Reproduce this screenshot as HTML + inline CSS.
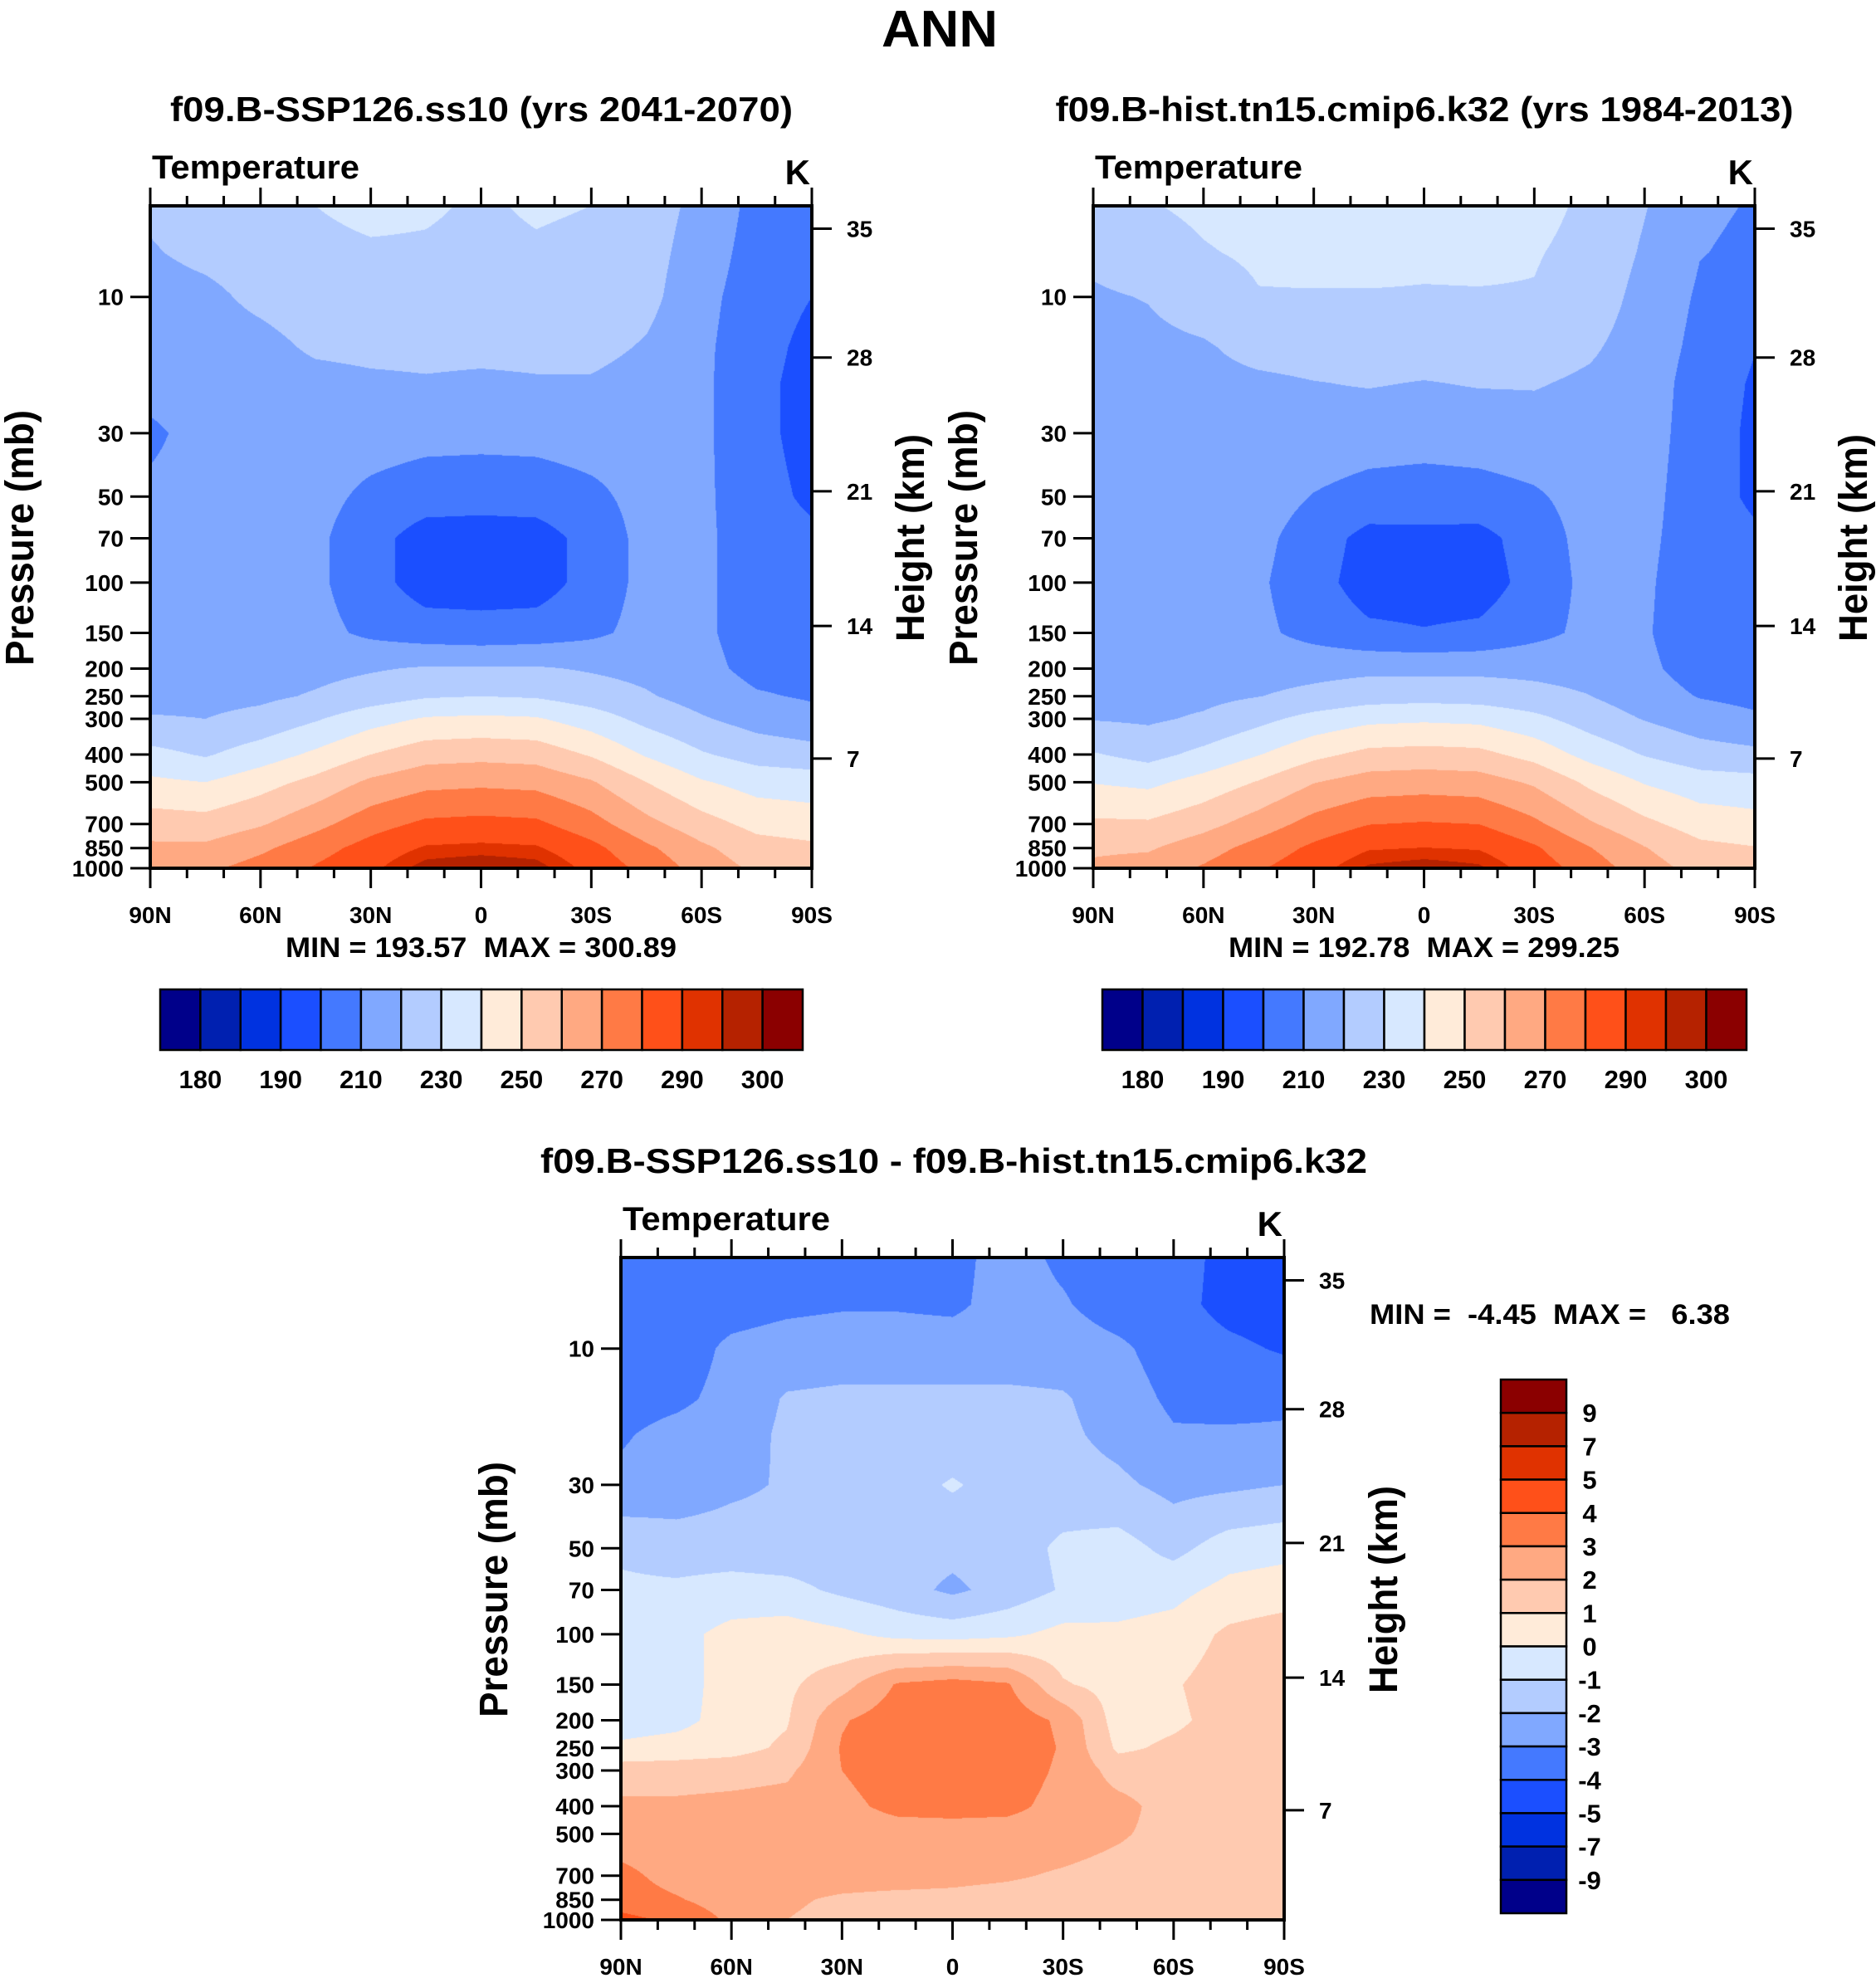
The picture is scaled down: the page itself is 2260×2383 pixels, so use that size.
<!DOCTYPE html>
<html><head><meta charset="utf-8">
<style>
html,body{margin:0;padding:0;background:#fff;}
#root{position:relative;width:2260px;height:2383px;overflow:hidden;background:#fff;font-family:"Liberation Sans",Arial,sans-serif;}
canvas{position:absolute;display:block;}
svg{position:absolute;left:0;top:0;}
text{font-family:"Liberation Sans",Arial,sans-serif;font-weight:bold;fill:#000;}
</style></head>
<body>
<div id="root">
<canvas id="c0"></canvas>
<canvas id="c1"></canvas>
<canvas id="c2"></canvas>
<svg id="ov" width="2260" height="2383" xmlns="http://www.w3.org/2000/svg">
<text x="1132" y="56" font-size="62" text-anchor="middle" textLength="140" lengthAdjust="spacingAndGlyphs">ANN</text>
<text x="580" y="146" font-size="42" text-anchor="middle" textLength="750" lengthAdjust="spacingAndGlyphs">f09.B-SSP126.ss10 (yrs 2041-2070)</text>
<text x="1716" y="146" font-size="42" text-anchor="middle" textLength="889" lengthAdjust="spacingAndGlyphs">f09.B-hist.tn15.cmip6.k32 (yrs 1984-2013)</text>
<text x="1149" y="1413" font-size="42" text-anchor="middle" textLength="996" lengthAdjust="spacingAndGlyphs">f09.B-SSP126.ss10 - f09.B-hist.tn15.cmip6.k32</text>
<text x="344" y="1153" font-size="34" textLength="471" lengthAdjust="spacingAndGlyphs" xml:space="preserve" style="white-space:pre">MIN = 193.57  MAX = 300.89</text>
<text x="1480" y="1153" font-size="34" textLength="471" lengthAdjust="spacingAndGlyphs" xml:space="preserve" style="white-space:pre">MIN = 192.78  MAX = 299.25</text>
<text x="1650" y="1595" font-size="34" textLength="434" lengthAdjust="spacingAndGlyphs" xml:space="preserve" style="white-space:pre">MIN =  -4.45  MAX =   6.38</text>
</svg>
</div>
<script>
const lats=[90,75,60,45,30,15,0,-15,-30,-45,-60,-75,-90];
const levs=[4.8,7,10,15,20,30,50,70,100,150,200,250,300,400,500,700,850,1000];
const tempSSP=[
[222,226,228,230,232,231,229,231,230,225,217,207,205],
[219,223,226,228,229,229,228,229,228,224,215,206,204],
[215,217,223,227,227,227,227,227,227,223,213,205,200],
[213,214,216,222,223,223,223,223,223,219,212,204,197],
[212,213,214,216,218,219,218,219,219,216,212,203,196],
[209,212,213,214,214,213,213,213,214,213,212,203,196],
[211,212,213,213,208,205,204,205,208,213,212,204,198],
[212,213,213,212,204,195,195,195,204,213,212,205,202],
[213,214,214,212,204,195,195,195,204,213,212,205,203],
[214,215,215,213,208,205,204,205,208,213,212,205,204],
[214,215,216,217,219,221,221,221,219,217,213,207,206],
[216,217,218,221,225,229,230,229,225,221,216,211,209],
[221,220,223,229,236,241,242,241,235,227,221,216,213],
[233,229,235,242,250,256,257,256,249,239,231,226,224],
[242,240,246,253,262,267,268,267,261,250,241,236,235],
[255,254,259,267,276,282,283,282,274,263,254,247,245],
[262,262,268,276,284,291,292,291,283,272,262,254,252],
[266,268,274,281,288,298,300.5,298,287,277,266,258,255]];
const tempHist=[
[225.5,229.5,231.5,233.5,235.5,234.5,232.5,233.5,232.5,228.5,220.6,211.3,209.5],
[222.5,226.5,229.4,231.2,232.1,232.1,231.2,231.6,230.6,227.5,218.7,210.3,208.5],
[218.6,220.5,225.8,229.6,229.5,229.5,229.5,229.5,229.5,225.8,216.5,208.8,204.1],
[216.4,217.2,218.7,223.9,224.8,224.8,224.8,224.8,224.9,221.5,215.2,207.5,200.3],
[215.1,215.7,216.5,217.8,219.7,220.7,219.6,220.7,220.8,218.3,214.9,205.8,198.8],
[211.8,214.6,215.2,215.9,215.6,214.4,213.9,214.4,215.6,214.8,214.3,205.2,198],
[212.2,213.5,214.5,214.6,209.6,206.6,205.7,206.5,208.8,213.6,213.3,204.5,198.3],
[212.8,213.8,213.6,212.7,205.2,196.6,197.2,196.6,204.9,213.5,212.3,204.7,201.5],
[213.7,214.3,213.7,211.5,203.8,195.3,195.4,195.2,203.7,212.8,211.6,203.8,201.5],
[214.6,215.5,214.5,212.2,206.7,202,200.6,202,207.1,212.4,211.1,203.5,202.5],
[214.5,215.3,215.6,216.1,217,217.8,217.5,217.7,217.5,216.5,212.2,205.6,204.6],
[215.8,216.6,217.4,219.8,222.5,225.5,226.4,225.6,223,220.2,214.8,209.5,207.5],
[219.5,218.5,221.4,227.2,233.4,237.6,238.5,237.6,232.7,225.4,219.5,214.5,211.5],
[230.8,226.8,232.7,239.6,247.4,252.8,253.7,252.8,246.5,236.7,229.4,224.5,222.5],
[239.6,237.7,243.7,250.7,259.6,264.5,265.5,264.5,258.6,247.9,239.3,234.5,233.5],
[251.7,251.4,256.7,264.7,273.7,279.7,280.8,279.9,272.1,261.3,252.4,245.5,243.5],
[258.5,258.9,265.5,273.9,282.1,289.2,290.2,289.3,281.4,270.5,260.5,252.5,250.5],
[261.7,264.2,271.2,279,286.2,296.3,298.9,296.4,285.4,275.5,264.4,256.5,253.5]];
const tempDiff=[
[-3.5,-3.5,-3.5,-3.5,-3.5,-3.5,-3.3,-2.6,-3.2,-3.5,-3.6,-4.3,-4.5],
[-3.5,-3.5,-3.4,-3.2,-3.1,-3.1,-3.2,-2.6,-2.9,-3.5,-3.7,-4.3,-4.5],
[-3.6,-3.5,-2.8,-2.6,-2.5,-2.5,-2.5,-2.5,-2.5,-2.8,-3.5,-3.8,-4.1],
[-3.4,-3.2,-2.7,-1.9,-1.8,-1.8,-1.8,-1.8,-1.9,-2.5,-3.2,-3.5,-3.3],
[-3.1,-2.7,-2.5,-1.8,-1.7,-1.7,-1.6,-1.7,-1.8,-2.3,-2.9,-2.8,-2.8],
[-2.8,-2.6,-2.2,-1.9,-1.6,-1.4,-0.9,-1.4,-1.6,-1.8,-2.3,-2.2,-2.0],
[-1.2,-1.5,-1.5,-1.6,-1.6,-1.6,-1.7,-1.5,-0.8,-0.6,-1.3,-0.5,-0.3],
[-0.8,-0.8,-0.6,-0.7,-1.2,-1.6,-2.2,-1.6,-0.9,-0.5,-0.3,0.3,0.5],
[-0.7,-0.3,0.3,0.5,0.2,-0.3,-0.4,-0.2,0.3,0.2,0.4,1.2,1.5],
[-0.6,-0.5,0.5,0.8,1.6,3.1,3.4,3.1,1.1,0.6,0.9,1.5,1.5],
[-0.5,-0.3,0.4,0.9,2.9,3.6,3.7,3.6,2.8,0.5,0.8,1.4,1.4],
[0.2,0.4,0.6,1.2,3.1,3.7,3.8,3.7,2.9,0.8,1.2,1.5,1.5],
[1.5,1.5,1.6,1.8,3.0,3.6,3.7,3.6,2.8,1.6,1.5,1.5,1.5],
[2.2,2.2,2.3,2.4,2.7,3.3,3.4,3.3,2.6,2.3,1.6,1.5,1.5],
[2.4,2.3,2.3,2.3,2.4,2.5,2.5,2.5,2.4,2.1,1.7,1.5,1.5],
[3.3,2.6,2.3,2.3,2.3,2.3,2.2,2.1,1.9,1.7,1.6,1.5,1.5],
[3.5,3.1,2.5,2.1,1.9,1.8,1.8,1.7,1.6,1.5,1.5,1.5,1.5],
[4.3,3.8,2.8,2.0,1.8,1.7,1.6,1.6,1.6,1.5,1.6,1.5,1.5]];
const absLevels=[180,185,190,200,210,220,230,240,250,260,270,280,290,295,300];
const absLabels=["180","190","210","230","250","270","290","300"];
const diffLevels=[-9,-7,-5,-4,-3,-2,-1,0,1,2,3,4,5,7,9];
const pressTicks=[10,30,50,70,100,150,200,250,300,400,500,700,850,1000];
const heightLabels=["35","28","21","14","7"];
const heightTickP=[5.77,16.3,47.9,141.9,413];
const latTicks=[90,60,30,0,-30,-60,-90];
const latLabels=["90N","60N","30N","0","30S","60S","90S"];
const colors=["#00008a","#0020b0","#0032e0","#1b4fff","#4479ff","#80a8ff","#b3ccff","#d7e8ff","#ffebd9","#ffcab0","#ffa982","#ff7a45","#ff5019","#e03200","#b52200","#8b0000"];

const NS="http://www.w3.org/2000/svg";
const ov=document.getElementById('ov');
const logTop=Math.log10(4.8);
const panels=[
 {id:'c0',L:181,R:978,T:248,B:1046,grid:tempSSP,levels:absLevels,pn:'panel1',pa:{x:40,y:648},ha:{x:1113,y:648}},
 {id:'c1',L:1317,R:2114,T:248,B:1046,grid:tempHist,levels:absLevels,pn:'panel2',pa:{x:1177,y:648},ha:{x:2249,y:648}},
 {id:'c2',L:748,R:1547,T:1515,B:2313,grid:tempDiff,levels:diffLevels,pn:'diff',pa:{x:611,y:1915},ha:{x:1683,y:1915}}
];
const logLevs=levs.map(p=>Math.log10(p));
function hex(c){return [parseInt(c.substr(1,2),16),parseInt(c.substr(3,2),16),parseInt(c.substr(5,2),16)];}
const rgb=colors.map(hex);

function addText(x,y,s,size,anchor,name){
  const t=document.createElementNS(NS,'text');
  t.setAttribute('x',x);t.setAttribute('y',y);t.setAttribute('font-size',size);
  t.setAttribute('text-anchor',anchor);t.textContent=s;
  
  
  ov.appendChild(t);return t;
}
function addLine(x1,y1,x2,y2,w,name){
  const l=document.createElementNS(NS,'line');
  l.setAttribute('x1',x1);l.setAttribute('y1',y1);l.setAttribute('x2',x2);l.setAttribute('y2',y2);
  l.setAttribute('stroke','#000');l.setAttribute('stroke-width',w);
  
  
  ov.appendChild(l);return l;
}
function addRect(x,y,w,h,fill,name){
  const r=document.createElementNS(NS,'rect');
  r.setAttribute('x',x);r.setAttribute('y',y);r.setAttribute('width',w);r.setAttribute('height',h);
  r.setAttribute('fill',fill);r.setAttribute('stroke','#000');r.setAttribute('stroke-width',2.5);
  
  
  ov.appendChild(r);return r;
}

panels.forEach(P=>{
  const w=P.R-P.L,h=P.B-P.T;
  const xOf=lat=>P.L+(90-lat)/180*w;
  const yOf=p=>P.T+(Math.log10(p)-logTop)/(3-logTop)*h;
  const cv=document.getElementById(P.id);
  cv.width=w;cv.height=h;cv.style.left=P.L+'px';cv.style.top=P.T+'px';
  const ctx=cv.getContext('2d');
  const img=ctx.createImageData(w,h);
  const g=P.grid,lv=P.levels;
  for(let py=0;py<h;py++){
    const lp=logTop+(py+0.5)/h*(3-logTop);
    let j=0;while(j<logLevs.length-2&&logLevs[j+1]<lp)j++;
    let fy=(lp-logLevs[j])/(logLevs[j+1]-logLevs[j]);fy=Math.max(0,Math.min(1,fy));
    for(let px=0;px<w;px++){
      const lat=90-(px+0.5)/w*180;
      let fi=(90-lat)/15;let i=Math.min(lats.length-2,Math.floor(fi));let fx=fi-i;
      const v=(g[j][i]*(1-fx)+g[j][i+1]*fx)*(1-fy)+(g[j+1][i]*(1-fx)+g[j+1][i+1]*fx)*fy;
      let k=0;while(k<lv.length&&v>=lv[k])k++;
      const c=rgb[k];const o=(py*w+px)*4;
      img.data[o]=c[0];img.data[o+1]=c[1];img.data[o+2]=c[2];img.data[o+3]=255;
    }
  }
  ctx.putImageData(img,0,0);
  const fr=document.createElementNS(NS,'rect');
  fr.setAttribute('x',P.L);fr.setAttribute('y',P.T);fr.setAttribute('width',w);fr.setAttribute('height',h);
  fr.setAttribute('fill','none');fr.setAttribute('stroke','#000');fr.setAttribute('stroke-width',4);
  
  
  ov.appendChild(fr);
  for(let lat=90;lat>=-90;lat-=10){
    const major=lat%30===0;const x=xOf(lat);
    addLine(x,P.T,x,P.T-(major?22:12),3,P.pn+'-top-tick');
    addLine(x,P.B,x,P.B+(major?24:12),3,P.pn+'-bottom-tick');
  }
  latTicks.forEach((lat,k)=>{addText(xOf(lat),P.B+66,latLabels[k],28,'middle',P.pn+'-x-tick-label');});
  pressTicks.forEach(p=>{const y=yOf(p);addLine(P.L-24,y,P.L,y,3,P.pn+'-y-tick');addText(P.L-32,y+10,String(p),28,'end',P.pn+'-y-tick-label');});
  heightTickP.forEach((p,k)=>{const y=yOf(p);addLine(P.R,y,P.R+24,y,3,P.pn+'-height-tick');addText(P.R+42,y+10,heightLabels[k],28,'start',P.pn+'-height-tick-label');});
  const tl=addText(P.L+2,P.T-33,'Temperature',40,'start',P.pn+'-variable-label');
  tl.setAttribute('textLength','250');tl.setAttribute('lengthAdjust','spacingAndGlyphs');
  addText(P.R-2,P.T-26,'K',42,'end',P.pn+'-units-label');
  const pt=addText(0,0,'Pressure (mb)',48,'middle',P.pn+'-y-axis-title');
  pt.setAttribute('transform','translate('+P.pa.x+','+P.pa.y+') rotate(-90)');
  pt.setAttribute('textLength','308');pt.setAttribute('lengthAdjust','spacingAndGlyphs');
  const ht=addText(0,0,'Height (km)',48,'middle',P.pn+'-height-axis-title');
  ht.setAttribute('transform','translate('+P.ha.x+','+P.ha.y+') rotate(-90)');
  ht.setAttribute('textLength','250');ht.setAttribute('lengthAdjust','spacingAndGlyphs');
});

[[193,967,'panel1'],[1328,2104,'panel2']].forEach(([x0,x1,pn])=>{
  const bw=(x1-x0)/colors.length;
  colors.forEach((c,k)=>{addRect(x0+k*bw,1192,bw,73,c,pn+'-colorbar-box');});
  absLabels.forEach((s,k)=>{addText(x0+(2*k+1)*bw,1311,s,31,'middle',pn+'-colorbar-label');});
});
(function(){
  const x0=1808,x1=1887,y0=1662,y1=2305;const bh=(y1-y0)/colors.length;
  colors.forEach((c,k)=>{addRect(x0,y0+k*bh,x1-x0,bh,colors[colors.length-1-k],'diff-colorbar-box');});
  diffLevels.forEach((v,k)=>{addText(1915,y1-(k+1)*bh+11,String(v),31,'middle','diff-colorbar-label');});
})();
</script>
</body></html>
